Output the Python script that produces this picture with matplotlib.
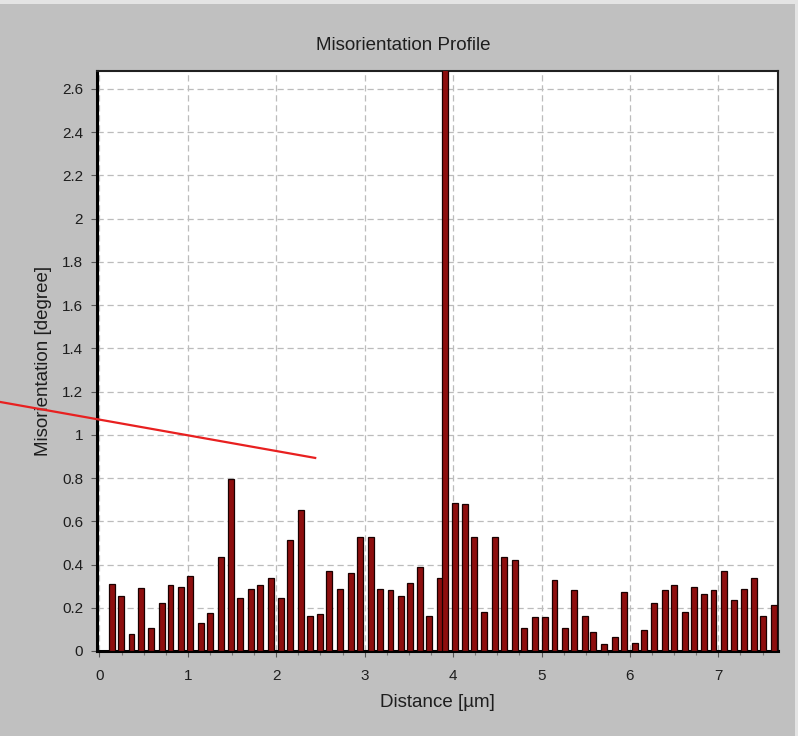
import matplotlib.pyplot as plt
from matplotlib.patches import Rectangle
from matplotlib.ticker import MultipleLocator

plt.rcParams['font.family'] = ['Liberation Sans', 'DejaVu Sans']

# distance of each sample (um)
distance = [0.138, 0.243, 0.364, 0.466, 0.583, 0.704, 0.805, 0.922, 1.027, 1.148,
            1.250, 1.371, 1.491, 1.593, 1.714, 1.816, 1.937, 2.053, 2.158, 2.276,
            2.381, 2.494, 2.593, 2.720, 2.845, 2.947, 3.068, 3.173, 3.290, 3.407,
            3.512, 3.629, 3.731, 3.852, 3.912, 4.018, 4.135, 4.236, 4.353, 4.474,
            4.579, 4.700, 4.802, 4.923, 5.040, 5.145, 5.266, 5.367, 5.489, 5.586,
            5.710, 5.831, 5.933, 6.054, 6.156, 6.276, 6.394, 6.499, 6.620, 6.722,
            6.839, 6.944, 7.061, 7.181, 7.287, 7.404, 7.509, 7.633]
# misorientation (degree); the spike near 3.9 goes off the top
misorientation = [0.310, 0.255, 0.080, 0.290, 0.105, 0.220, 0.305, 0.297, 0.345, 0.130,
                  0.178, 0.436, 0.795, 0.247, 0.289, 0.304, 0.338, 0.247, 0.513, 0.652,
                  0.164, 0.171, 0.371, 0.289, 0.361, 0.528, 0.528, 0.289, 0.280, 0.255,
                  0.314, 0.388, 0.164, 0.338, 3.000, 0.686, 0.678, 0.528, 0.179, 0.528,
                  0.436, 0.420, 0.105, 0.156, 0.156, 0.329, 0.105, 0.280, 0.164, 0.088,
                  0.031, 0.063, 0.272, 0.039, 0.096, 0.221, 0.280, 0.304, 0.179, 0.297,
                  0.263, 0.280, 0.371, 0.238, 0.289, 0.338, 0.164, 0.213]
ytick_labels = ['0', '0.2', '0.4', '0.6', '0.8', '1', '1.2', '1.4', '1.6', '1.8',
                '2', '2.2', '2.4', '2.6']

# red pointer line drawn over the screenshot (data coords)
pointer_x = [-1.125, 2.44]
pointer_y = [1.152, 0.893]

W, H = 798, 736
fig = plt.figure(figsize=(W / 100, H / 100), dpi=100, facecolor='#e4e4e4')
fig.patches.append(Rectangle((0, 0), 795 / W, 732 / H, transform=fig.transFigure,
                             facecolor='#c0c0c0', edgecolor='none', zorder=-10))

ax = fig.add_axes([97 / W, 1 - 651 / H, 681 / W, 580.5 / H])
ax.set_facecolor('white')

ax.bar(distance, misorientation, width=0.064, color='#8e0e0e',
       edgecolor='#1a0000', linewidth=0.9, zorder=3)

ax.set_xlim(-0.028, 7.675)
ax.set_ylim(0, 2.685)
ax.xaxis.set_major_locator(MultipleLocator(1))
ax.xaxis.set_minor_locator(MultipleLocator(0.25))
ax.set_yticks([i * 0.2 for i in range(len(ytick_labels))])
ax.set_yticklabels(ytick_labels)

ax.grid(True, which='major', color='#bcbcbc', linestyle=(0, (5, 3)), linewidth=0.9, zorder=1)
ax.tick_params(which='major', direction='out', length=4, width=0.8, color='#555555',
               labelsize=11, labelcolor='#1e1e1e', pad=6)
ax.tick_params(which='minor', direction='out', length=3, width=0.8, color='#777777')
ax.tick_params(axis='x', pad=9)

for side in ['left', 'bottom']:
    ax.spines[side].set_linewidth(2.2)
    ax.spines[side].set_color('black')
for side in ['top', 'right']:
    ax.spines[side].set_linewidth(1.5)
    ax.spines[side].set_color('#202020')

fig.text(403 / W, 1 - 46 / H, 'Misorientation Profile', fontsize=13.5, color='#1e1e1e',
         ha='center', va='center')
ax.set_xlabel('Distance [\u00b5m]', fontsize=13.5, color='#1e1e1e', labelpad=8)
ax.set_ylabel('Misorientation [degree]', fontsize=13.5, color='#1e1e1e', labelpad=7)

ax.plot(pointer_x, pointer_y, color='#e82020', linewidth=1.6, clip_on=False, zorder=5)

fig.savefig('out.png', dpi=100, facecolor=fig.get_facecolor())
